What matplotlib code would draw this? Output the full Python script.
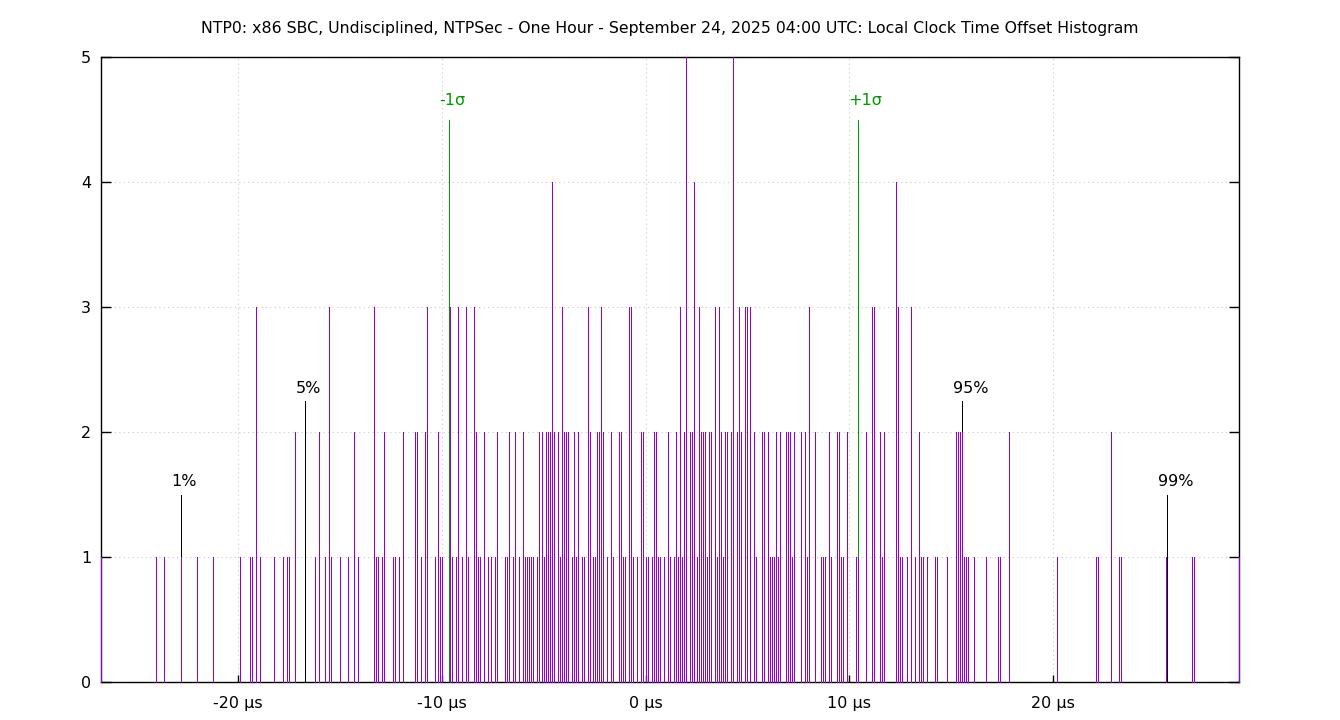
import numpy as np
import matplotlib
matplotlib.use("Agg")
import matplotlib.pyplot as plt
import matplotlib.transforms as mtransforms

TITLE = ("NTP0: x86 SBC, Undisciplined, NTPSec - One Hour - September 24, 2025 "
         "04:00 UTC: Local Clock Time Offset Histogram")

# histogram bins (offset in microseconds) and their counts
offsets = [
    -26.7, -24.0, -23.6, -22.8, -22.0, -21.2, -19.9, -19.4, -19.3, -19.1,
    -18.9, -18.2, -17.8, -17.6, -17.5, -17.2, -16.2, -16.0, -15.7, -15.5,
    -15.4, -15.0, -14.6, -14.3, -14.1, -13.3, -13.2, -13.1, -12.9, -12.8,
    -12.4, -12.3, -12.1, -11.9, -11.3, -11.2, -11.0, -10.8, -10.7, -10.3,
    -10.2, -10.1, -10.0, -9.6, -9.5, -9.3, -9.2, -9.0, -8.8, -8.7,
    -8.4, -8.3, -8.2, -8.1, -7.9, -7.7, -7.6, -7.4, -7.3, -6.9,
    -6.8, -6.7, -6.5, -6.4, -6.2, -6.0, -5.9, -5.8, -5.7, -5.6,
    -5.5, -5.3, -5.2, -5.1, -5.0, -4.9, -4.8, -4.7, -4.6, -4.5,
    -4.3, -4.2, -4.1, -4.0, -3.9, -3.8, -3.6, -3.5, -3.4, -3.3,
    -3.1, -3.0, -2.8, -2.7, -2.6, -2.5, -2.4, -2.3, -2.2, -2.1,
    -1.9, -1.7, -1.6, -1.3, -1.2, -1.1, -1.0, -0.8, -0.7, -0.6,
    -0.4, -0.2, -0.1, 0.0, 0.1, 0.3, 0.4, 0.5, 0.6, 0.7,
    0.9, 1.1, 1.2, 1.4, 1.5, 1.6, 1.7, 1.8, 1.9, 2.0,
    2.2, 2.3, 2.4, 2.5, 2.6, 2.7, 2.8, 2.9, 3.0, 3.1,
    3.2, 3.4, 3.5, 3.6, 3.7, 3.8, 3.9, 4.0, 4.2, 4.3,
    4.5, 4.6, 4.7, 4.9, 5.0, 5.1, 5.3, 5.4, 5.7, 5.8,
    6.0, 6.1, 6.2, 6.3, 6.4, 6.5, 6.6, 6.9, 7.0, 7.1,
    7.2, 7.3, 7.6, 7.8, 7.9, 8.0, 8.3, 8.6, 8.7, 8.8,
    9.0, 9.1, 9.4, 9.5, 9.6, 9.7, 9.9, 10.3, 10.4, 10.8,
    11.1, 11.2, 11.5, 11.6, 11.7, 12.3, 12.4, 12.5, 12.6, 12.8,
    13.0, 13.2, 13.4, 13.5, 13.6, 13.8, 14.2, 14.3, 14.8, 15.2,
    15.3, 15.4, 15.5, 15.6, 15.7, 15.8, 16.1, 16.7, 17.3, 17.4,
    17.8, 20.2, 22.1, 22.2, 22.8, 23.2, 23.3, 25.5, 26.8, 26.9,
    29.1,
]
counts = [
    1, 1, 1, 1, 1, 1, 1, 1, 1, 3,
    1, 1, 1, 1, 1, 2, 1, 2, 1, 3,
    1, 1, 1, 2, 1, 3, 1, 1, 1, 2,
    1, 1, 1, 2, 2, 2, 1, 2, 3, 1,
    2, 1, 1, 3, 1, 1, 3, 1, 3, 1,
    3, 2, 1, 1, 2, 1, 1, 1, 2, 1,
    1, 2, 1, 2, 1, 2, 1, 1, 1, 1,
    1, 1, 2, 2, 1, 2, 2, 2, 4, 2,
    2, 1, 3, 2, 2, 2, 1, 2, 1, 2,
    1, 1, 3, 2, 1, 1, 2, 2, 3, 2,
    1, 2, 1, 2, 2, 1, 1, 3, 3, 1,
    1, 2, 2, 1, 1, 1, 2, 2, 1, 1,
    1, 2, 1, 1, 2, 1, 3, 1, 2, 5,
    2, 2, 4, 1, 3, 2, 2, 2, 1, 2,
    2, 3, 1, 3, 2, 1, 2, 2, 2, 5,
    2, 3, 2, 3, 3, 3, 2, 1, 2, 2,
    2, 1, 1, 1, 2, 1, 2, 2, 2, 2,
    1, 2, 2, 2, 1, 3, 2, 1, 1, 1,
    2, 1, 2, 2, 1, 1, 2, 1, 1, 2,
    3, 3, 2, 1, 2, 4, 3, 1, 1, 1,
    3, 1, 2, 1, 1, 1, 1, 1, 1, 2,
    2, 2, 2, 1, 1, 1, 1, 1, 1, 1,
    2, 1, 1, 1, 2, 1, 1, 1, 1, 1,
    1,
]

# percentile markers
pct_labels = ["1%", "5%", "95%", "99%"]
pct_values = [-22.79, -16.70, 15.54, 25.56]
pct_heights = [1.5, 2.25, 2.25, 1.5]

# standard deviation markers
sigma_labels = ["-1σ", "+1σ"]
sigma_values = [-9.63, 10.44]
sigma_height = 4.5

xticks = [-20, -10, 0, 10, 20]
xtick_labels = ["-20 µs", "-10 µs", "0 µs", "10 µs", "20 µs"]

PURPLE = "#9400d3"
GREEN = "#009a00"
FS = 11.5

fig = plt.figure(figsize=(13.4, 7.2), dpi=100)
ax = fig.add_axes([101 / 1340, 1 - 682 / 720, 1138 / 1340, 625 / 720])

ax.grid(True, color="#c8c8c8", linestyle=(0, (1, 3)), linewidth=0.8)
ax.set_axisbelow(True)

# markers first, data impulses drawn over them (and over the border)
LW = 0.6
ax.vlines(pct_values, 0, pct_heights, color="black", linewidth=LW,
          antialiased=False, zorder=3)
ax.vlines(sigma_values, 0, sigma_height, color=GREEN, linewidth=LW,
          antialiased=False, zorder=3)
ax.vlines(offsets, 0, counts, color=PURPLE, linewidth=LW, antialiased=False,
          zorder=3, clip_on=False)

shift = mtransforms.offset_copy(ax.transData, fig=fig, x=-9, y=0, units="dots")
for lab, x, h in zip(pct_labels, pct_values, pct_heights):
    ax.text(x, h + 0.1, lab, transform=shift, ha="left", va="center",
            fontsize=FS, color="black")
shift2 = mtransforms.offset_copy(ax.transData, fig=fig, x=-10, y=0, units="dots")
for lab, x in zip(sigma_labels, sigma_values):
    ax.text(x, sigma_height + 0.155, lab, transform=shift2, ha="left",
            va="center", fontsize=FS, color=GREEN)

ax.set_xlim(-26.7, 29.1)
ax.set_ylim(0, 5)
ax.set_xticks(xticks)
ax.set_xticklabels(xtick_labels)
ax.set_yticks(range(6))
ax.tick_params(axis="x", direction="in", length=5, width=1, labelsize=FS, pad=10)
ax.tick_params(axis="y", direction="in", length=7, width=1, labelsize=FS,
               pad=7, right=True)
for sp in ax.spines.values():
    sp.set_linewidth(1.0)

fig.text(0.5, 1 - 29 / 720, TITLE, ha="center", va="center", fontsize=11.3)

fig.savefig("out.png", dpi=100)
